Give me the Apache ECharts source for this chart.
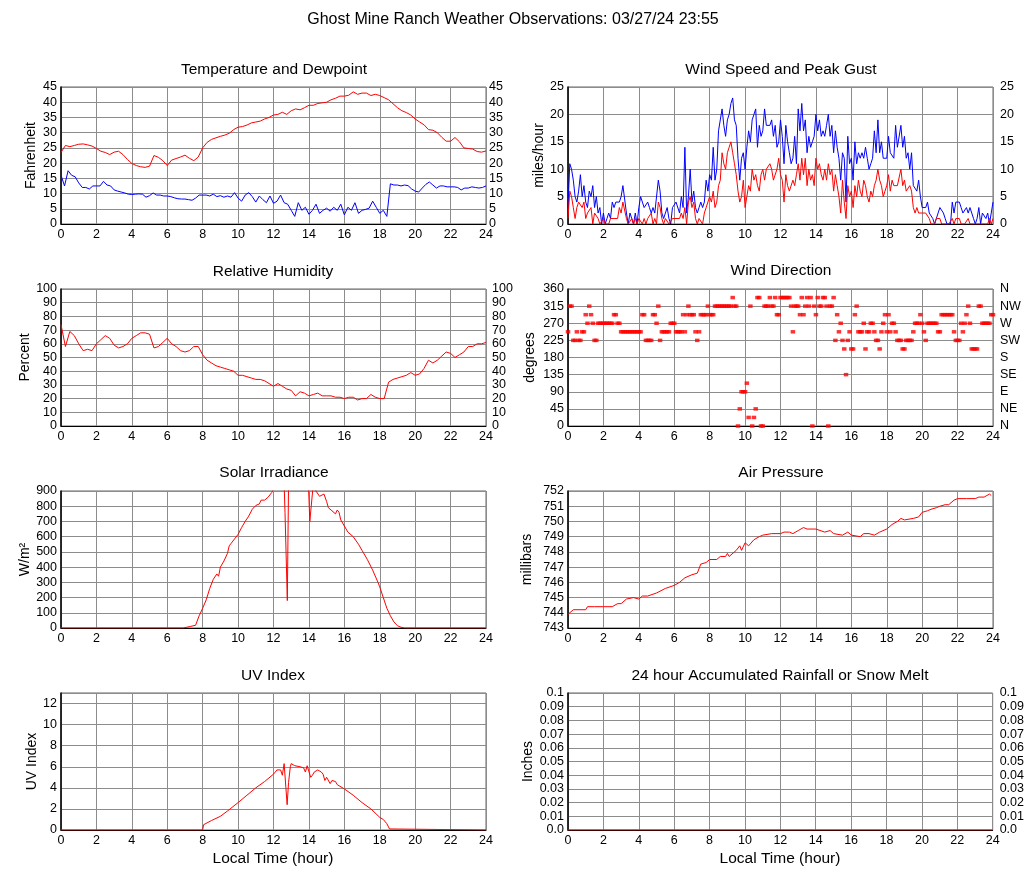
<!DOCTYPE html>
<html><head><meta charset="utf-8">
<script src="https://cdn.jsdelivr.net/npm/echarts@6/dist/echarts.min.js"></script>
<style>html,body{margin:0;padding:0;background:#fff}#c{width:1027px;height:878px}</style>
</head><body><div id="c"></div>
<script>
// ---------------- DATA ----------------
const mainTitle = 'Ghost Mine Ranch Weather Observations: 03/27/24 23:55';
const panelTitles = ['Temperature and Dewpoint','Wind Speed and Peak Gust','Relative Humidity','Wind Direction','Solar Irradiance','Air Pressure','UV Index','24 hour Accumulated Rainfall or Snow Melt'];
const yNames = ['Fahrenheit','miles/hour','Percent','degrees','W/m²','millibars','UV Index','Inches'];
const xAxisName = 'Local Time (hour)';
const dirNames = ['N','NE','E','SE','S','SW','W','NW','N'];

// temperature, step 0.25 h
const tempStep = 0.25;
const temperature = [23.5,25.8,25.4,25.8,26.2,26.3,26.0,25.6,24.8,23.9,23.5,22.8,23.6,23.9,22.8,21.2,19.9,19.2,18.8,18.6,19.0,22.5,21.9,20.8,19.2,21.0,21.5,22.0,22.6,21.6,20.8,22.0,
25.0,26.8,27.8,28.3,28.8,29.2,29.8,31.0,31.8,32.0,32.5,33.2,33.5,33.8,34.5,35.0,35.8,36.0,36.7,36.0,37.2,37.8,37.5,38.2,39.0,39.0,39.6,39.8,40.0,40.8,41.3,42.0,
42.0,42.3,43.4,42.6,43.0,43.0,42.2,42.6,42.2,41.5,40.8,39.5,38.2,37.2,36.6,35.8,34.5,33.5,32.6,31.0,30.8,30.0,28.5,27.2,27.2,28.4,27.0,25.0,24.8,24.6,23.8,23.6,24.0];

// dewpoint, step 0.2 h
const dewStep = 0.2;
const dewpoint = [16,12.5,17.5,16,15.5,13.5,12,12,11.5,12.5,
12.5,12.5,14,12.8,12.5,11.2,10.8,10.5,10.2,9.8,
9.7,9.8,9.9,9.8,8.8,9.3,10.2,9.5,9.5,9.2,
9.2,9.0,8.6,8.3,8.2,8.2,8.0,7.8,8.5,9.5,
9.5,9.5,9.2,9.8,9.0,9.3,8.8,9.2,8.8,10.3,
8.5,7.5,9.5,10.3,9.0,7.2,9.2,8.0,7.0,9.2,
6.8,7.5,9.5,7.0,6.5,4.5,2.5,7.0,4.5,5.5,
3.2,4.5,6.5,3.5,4.5,5.2,4.2,5.5,4.5,6.5,
3.0,5.5,4.5,7.0,3.5,4.5,4.8,5.2,7.5,5.5,
3.5,4.5,2.5,13.2,12.8,12.8,12.5,12.8,12.6,11.5,
10.8,10.5,11.8,13.0,13.8,12.8,11.8,12.5,12.5,12.2,
12.2,12.2,12.0,11.2,11.8,11.8,12.2,12.0,11.8,12.0,12.5];

// wind speed and gust, step 0.1 h
const windStep = 0.1;
const windGust = [3,11,10,8,5,4,6,9,5,7,
4,3,6,5,7,3,5,2,3,0,
2,0,1,2,1,4,3,4,4,4,
5,7,7,2,0,2,1,0,2,0,
3,5,4,3,3,4,3,2,3,2,
2,8,6,2,1,2,3,1,0,3,
3,4,4,2,5,3,14,2,5,10,
4,6,3,2,3,4,3,4,8,6,
9,8,14,8,10,17,17,21,18,16,
19,20,22,23,19,18,12,8,12,13,
10,14,17,15,19,20,21,14,18,16,
17,21,18,18,18,19,16,18,14,15,
19,16,11,18,15,13,11,12,16,11,
21,17,22,17,19,13,16,14,15,16,
20,17,19,16,17,16,18,20,16,18,
13,17,14,12,8,13,12,4,16,11,
12,8,15,11,13,12,13,12,14,12,
10,11,12,17,13,19,13,15,12,12,
12,16,13,13,12,18,14,14,18,14,
16,12,13,10,13,7,7,6,8,5,
3,3,3,4,2,2,1,0,1,2,
3,3,2,1,0,0,0,4,2,4,
4,4,3,2,2,3,2,3,2,1,
0,1,3,0,2,2,1,2,0,2,4];
const windSpeed = [1,6,5,3,1,3,4,4,3,4,
1,2,2,3,0,2,2,1,0,0,
1,0,0,0,1,1,1,1,1,3,
2,4,4,1,0,0,1,0,1,0,
1,1,0,1,0,1,1,2,0,1,
0,4,3,1,0,1,1,0,0,1,
1,1,1,1,2,1,3,0,4,5,
3,4,1,0,1,1,0,2,3,3,
5,4,6,3,4,7,8,13,11,10,
13,14,15,13,11,9,6,4,5,8,
3,5,7,6,10,8,9,7,6,9,
10,8,10,10,11,10,8,8,10,12,
9,8,4,9,7,6,6,8,7,9,
11,8,12,9,12,7,10,8,9,7,
12,10,11,9,8,10,8,11,9,10,
6,9,7,5,2,8,4,1,7,5,
6,3,7,5,8,6,5,8,7,5,
4,6,5,7,8,10,8,7,5,6,
7,9,6,8,7,7,7,7,10,7,
8,6,6,7,6,3,2,3,2,2,
2,2,2,2,1,0,0,0,1,1,
1,0,0,0,0,0,0,1,0,1,
1,1,0,0,0,0,1,0,0,0,
0,0,0,0,0,0,0,0,1,0,1];
const windDir = [247.5,315,315,225,225,247.5,225,225,247.5,247.5,
292.5,270,315,292.5,270,225,225,270,270,270,
270,270,270,270,270,270,292.5,292.5,270,270,
247.5,247.5,247.5,247.5,247.5,247.5,247.5,247.5,247.5,247.5,
247.5,247.5,292.5,292.5,225,225,225,225,292.5,292.5,
270,315,225,247.5,247.5,247.5,247.5,247.5,270,270,
270,247.5,247.5,247.5,247.5,292.5,247.5,292.5,315,292.5,
292.5,292.5,247.5,225,247.5,292.5,292.5,292.5,292.5,315,
292.5,292.5,292.5,315,315,315,315,315,315,315,
315,315,315,337.5,315,315,0,45,90,90,
90,112.5,22.5,315,0,22.5,45,337.5,337.5,0,
0,315,315,315,337.5,315,315,337.5,292.5,292.5,
337.5,337.5,337.5,337.5,337.5,337.5,315,247.5,315,315,
315,292.5,337.5,292.5,315,337.5,315,337.5,0,315,
292.5,337.5,315,315,337.5,337.5,315,0,315,315,
337.5,225,292.5,247.5,270,225,202.5,135,225,247.5,
202.5,202.5,292.5,315,247.5,247.5,247.5,270,202.5,247.5,
247.5,270,270,247.5,225,225,202.5,247.5,270,292.5,
247.5,292.5,247.5,270,270,247.5,225,225,225,202.5,
202.5,225,225,225,225,247.5,270,270,270,292.5,
270,247.5,225,270,270,270,270,270,270,247.5,
247.5,292.5,292.5,292.5,292.5,292.5,292.5,292.5,247.5,225,
225,225,270,247.5,270,292.5,315,270,202.5,202.5,
202.5,202.5,315,315,270,270,270,270,270,292.5,292.5];

// relative humidity, step 0.25 h
const rhStep = 0.25;
const humidity = [74,58,69,66,60,55,56,55,60,63,66,64,59,57,58,60,64,66,68,68,67,57,58,61,64,60,58,55,54,55,58,58,
52,48,46,44,43,42,41,40,37,37,36,35,34,34,33,31,29,31,29,27,26,22,25,24,22,23,24,22,22,22,21,21,
20,21,21,19,20,20,23,21,20,20,32,34,35,36,37,39,37,38,42,48,46,48,51,54,53,50,52,54,58,58,60,60,61];

// solar irradiance (irregular times)
const solarHours = [0,6.9,7.0,7.3,7.6,7.7,7.8,8.0,8.2,8.4,8.6,8.8,8.9,9.0,9.2,9.4,9.5,9.6,9.8,10.0,10.2,10.4,10.6,10.8,11.0,11.2,11.3,11.5,11.7,11.9,12.0,12.2,12.4,12.6,12.65,12.78,12.85,13.0,13.5,13.97,14.05,14.12,14.25,14.4,14.6,14.7,14.85,15.0,15.1,15.3,15.5,15.6,15.7,15.8,16.0,16.2,16.5,16.8,17.0,17.3,17.6,17.9,18.0,18.2,18.4,18.6,18.8,19.0,19.2,19.4,24];
const solar = [0,0,3,10,18,22,80,130,185,260,320,355,340,400,440,490,540,555,585,615,660,700,735,780,805,815,840,840,860,890,910,960,990,950,760,180,950,1000,1000,950,700,710,950,900,865,860,880,830,790,770,750,775,760,710,670,630,600,550,510,450,380,300,270,200,130,80,40,15,5,0,0];

// air pressure (irregular times)
const pressureHours = [0,0.3,1.0,1.1,1.5,1.6,2.0,2.5,2.8,3.0,3.3,3.7,4.0,4.2,4.5,5.0,5.5,6.0,6.3,6.6,7.0,7.3,7.5,7.8,8.0,8.4,8.6,8.9,9.0,9.1,9.5,9.7,9.8,10.0,10.2,10.5,10.8,11.0,11.5,11.6,12.0,12.2,12.5,12.7,13.0,13.3,13.5,14.0,14.5,14.8,15.0,15.5,15.8,16.0,16.5,16.7,17.0,17.3,17.6,18.0,18.3,18.6,18.8,19.0,19.5,19.8,20.0,20.3,20.5,20.8,21.0,21.3,21.5,21.8,22.0,22.5,23.0,23.2,23.5,23.8,23.9];
const pressure = [743.9,744.2,744.2,744.4,744.4,744.5,744.4,744.4,744.6,744.6,744.9,745.0,744.9,745.1,745.1,745.3,745.6,745.8,746.0,746.3,746.5,746.6,747.2,747.3,747.5,747.5,747.7,747.7,747.9,747.7,748.1,748.4,748.1,748.6,748.4,748.8,749.0,749.1,749.2,749.3,749.2,749.3,749.3,749.2,749.4,749.6,749.5,749.5,749.3,749.4,749.2,749.1,749.3,749.1,749.0,749.2,749.2,749.1,749.3,749.5,749.8,750.0,750.2,750.1,750.2,750.3,750.6,750.7,750.8,750.9,751.0,751.1,751.1,751.4,751.5,751.5,751.5,751.6,751.6,751.8,751.7];

// UV index (irregular times)
const uvHours = [0,8.0,8.05,8.5,9.0,9.4,9.5,10.0,10.5,11.0,11.5,12.0,12.2,12.4,12.5,12.6,12.7,12.77,12.85,12.95,13.0,13.2,13.5,13.7,13.8,13.9,14.0,14.1,14.2,14.3,14.5,14.7,14.8,14.9,15.0,15.2,15.3,15.5,15.6,15.7,16.0,16.5,17.0,17.5,18.0,18.2,18.4,18.55,18.6,24];
const uvIndex = [0,0,0.5,0.9,1.3,1.8,1.7,2.6,3.3,4.0,4.6,5.3,5.7,5.7,5.2,6.3,4.0,2.4,4.5,6.0,6.3,6.1,6.0,5.9,5.5,6.1,6.1,5.0,5.2,5.5,5.7,5.5,5.3,4.7,5.0,4.4,4.7,4.6,4.3,4.3,3.9,3.3,2.6,2.0,1.2,1.0,0.6,0.1,0,0];

// rainfall
const rainHours = [0,24];
const rainfall = [0,0];

// ---------------- CHART ----------------
const FONT = '"Liberation Sans", Arial, Helvetica, sans-serif';
const RED = '#ff0000', BLUE = '#0000ff';
const stepPairs = (step, vals) => vals.map((v, i) => [+(i * step).toFixed(3), v]);
const zipPairs = (xs, vals) => vals.map((v, i) => [xs[i], v]);

const gridPos = [[61,87],[568,87],[61,289],[568,289],[61,491],[568,491],[61,693],[568,693]];
const grid = gridPos.map(p => ({left:p[0], top:p[1], width:425, height:137, show:true, borderColor:'#666', borderWidth:1, backgroundColor:'rgba(0,0,0,0)'}));

const xAxis = gridPos.map((p, i) => ({
  type:'value', gridIndex:i, min:0, max:24, interval:2,
  axisLine:{show:true, lineStyle:{color:'#000', width:1}}, axisTick:{show:false},
  splitLine:{show:true, lineStyle:{color:'#8c8c8c', width:1}},
  axisLabel:{fontSize:12.5, color:'#000', fontFamily:FONT, margin:4}
}));

const rainFmt = v => v === 0 ? '0.0' : String(+v.toFixed(2));
const dirFmt = v => dirNames[Math.round(v / 45)];
const panels = [
  {min:0,max:45,interval:5,gap:23,right:3},
  {min:0,max:25,interval:5,gap:22,right:7},
  {min:0,max:100,interval:10,gap:29,right:6},
  {min:0,max:360,interval:45,gap:31,right:7,rfmt:dirFmt},
  {min:0,max:900,interval:100,gap:29},
  {min:743,max:752,interval:1,gap:34},
  {min:0,max:13,interval:2,gap:22,hideMax:true},
  {min:0,max:0.1,interval:0.01,gap:33,right:7,fmt:rainFmt,rfmt:rainFmt}
];
const yAxis = [];
const leftIdx = [];
panels.forEach((p, i) => {
  leftIdx.push(yAxis.length);
  yAxis.push({
    type:'value', gridIndex:i, min:p.min, max:p.max, interval:p.interval, position:'left',
    name:yNames[i], nameLocation:'middle', nameGap:p.gap, nameMoveOverlap:false,
    nameTextStyle:{fontSize:14, color:'#000', fontFamily:FONT},
    axisLine:{show:true, lineStyle:{color:'#000', width:1.5}}, axisTick:{show:false},
    splitLine:{show:true, lineStyle:{color:'#8c8c8c', width:1}},
    axisLabel:{fontSize:12.5, color:'#000', fontFamily:FONT, margin:4, formatter:p.fmt, showMaxLabel:p.hideMax ? false : null}
  });
  if (p.right !== undefined) {
    yAxis.push({
      type:'value', gridIndex:i, min:p.min, max:p.max, interval:p.interval, position:'right',
      axisLine:{show:false}, axisTick:{show:false}, splitLine:{show:false},
      axisLabel:{fontSize:12.5, color:'#000', fontFamily:FONT, margin:p.right, formatter:p.rfmt}
    });
  }
});

const lineSeries = (panel, data, color) => ({
  type:'line', xAxisIndex:panel, yAxisIndex:leftIdx[panel], data, showSymbol:false, symbol:'none',
  lineStyle:{color, width:1}, itemStyle:{color}, clip:true, silent:true, animation:false, z:3
});

const series = [
  lineSeries(0, stepPairs(tempStep, temperature), RED),
  lineSeries(0, stepPairs(dewStep, dewpoint), BLUE),
  lineSeries(1, stepPairs(windStep, windGust), BLUE),
  lineSeries(1, stepPairs(windStep, windSpeed), RED),
  lineSeries(2, stepPairs(rhStep, humidity), RED),
  {type:'scatter', xAxisIndex:3, yAxisIndex:leftIdx[3], data:stepPairs(windStep, windDir), symbol:'rect', symbolSize:[4.5,3.5], itemStyle:{color:RED}, silent:true, animation:false, clip:false},
  lineSeries(4, zipPairs(solarHours, solar), RED),
  lineSeries(5, zipPairs(pressureHours, pressure), RED),
  lineSeries(6, zipPairs(uvHours, uvIndex), RED),
  lineSeries(7, zipPairs(rainHours, rainfall), RED)
];

const titlePos = [[274,70],[781,70],[273,272],[781,271],[274,473],[781,473],[273,676],[780,676]];
const txt = (x, y, text, size) => ({type:'text', x, y, silent:true, style:{text, align:'center', verticalAlign:'middle', fontSize:size, fontFamily:FONT, fill:'#000'}});
const graphic = [txt(513, 20, mainTitle, 16)]
  .concat(titlePos.map((p, i) => txt(p[0], p[1], panelTitles[i], 15.5)))
  .concat([txt(273, 859, xAxisName, 15.5), txt(780, 859, xAxisName, 15.5)]);

const chart = echarts.init(document.getElementById('c'), null, {renderer:'canvas'});
chart.setOption({
  animation:false, backgroundColor:'#fff', textStyle:{fontFamily:FONT},
  grid, xAxis, yAxis, series, graphic
});
</script>
</body></html>
